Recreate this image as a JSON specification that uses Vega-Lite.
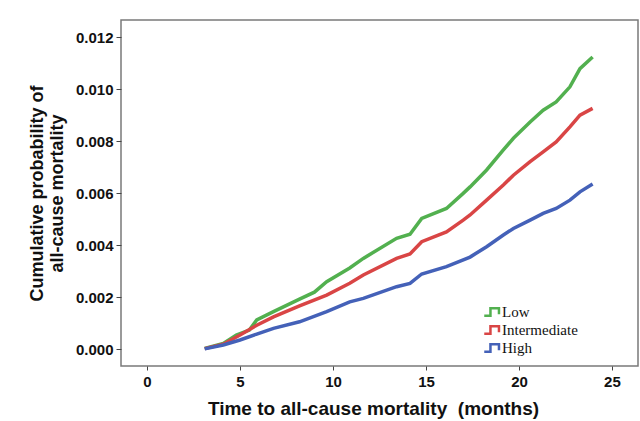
{
  "$schema": "https://vega.github.io/schema/vega-lite/v6.json",
  "autosize": "none",
  "width": 517,
  "height": 346,
  "padding": {"left": 121, "top": 20, "right": 2, "bottom": 55},
  "background": "white",
  "config": {
    "view": {"stroke": "#7a7a7a", "strokeWidth": 1.5},
    "font": "Liberation Sans"
  },
  "data": {
    "values": [
      {"t": 3.1, "p": 0.00004, "g": "Low"},
      {"t": 4.1, "p": 0.00023, "g": "Low"},
      {"t": 4.8, "p": 0.00055, "g": "Low"},
      {"t": 5.5, "p": 0.00074, "g": "Low"},
      {"t": 5.9, "p": 0.00113, "g": "Low"},
      {"t": 6.8, "p": 0.00145, "g": "Low"},
      {"t": 8.2, "p": 0.00193, "g": "Low"},
      {"t": 9.0, "p": 0.0022, "g": "Low"},
      {"t": 9.66, "p": 0.0026, "g": "Low"},
      {"t": 10.9, "p": 0.00313, "g": "Low"},
      {"t": 11.63, "p": 0.0035, "g": "Low"},
      {"t": 13.42, "p": 0.00427, "g": "Low"},
      {"t": 14.14, "p": 0.00443, "g": "Low"},
      {"t": 14.77, "p": 0.00504, "g": "Low"},
      {"t": 16.1, "p": 0.00542, "g": "Low"},
      {"t": 17.0, "p": 0.006, "g": "Low"},
      {"t": 17.37, "p": 0.00625, "g": "Low"},
      {"t": 18.26, "p": 0.0069, "g": "Low"},
      {"t": 19.16, "p": 0.00767, "g": "Low"},
      {"t": 19.7, "p": 0.00812, "g": "Low"},
      {"t": 20.6, "p": 0.00875, "g": "Low"},
      {"t": 21.3, "p": 0.0092, "g": "Low"},
      {"t": 22.0, "p": 0.00952, "g": "Low"},
      {"t": 22.74, "p": 0.0101, "g": "Low"},
      {"t": 23.28, "p": 0.0108, "g": "Low"},
      {"t": 23.96, "p": 0.01125, "g": "Low"},

      {"t": 3.1, "p": 0.00003, "g": "Intermediate"},
      {"t": 4.1, "p": 0.0002, "g": "Intermediate"},
      {"t": 5.0, "p": 0.00055, "g": "Intermediate"},
      {"t": 5.9, "p": 0.00093, "g": "Intermediate"},
      {"t": 6.8, "p": 0.00125, "g": "Intermediate"},
      {"t": 8.2, "p": 0.00167, "g": "Intermediate"},
      {"t": 9.66, "p": 0.00209, "g": "Intermediate"},
      {"t": 10.9, "p": 0.00254, "g": "Intermediate"},
      {"t": 11.63, "p": 0.00286, "g": "Intermediate"},
      {"t": 13.42, "p": 0.0035, "g": "Intermediate"},
      {"t": 14.14, "p": 0.00367, "g": "Intermediate"},
      {"t": 14.77, "p": 0.00414, "g": "Intermediate"},
      {"t": 16.1, "p": 0.00452, "g": "Intermediate"},
      {"t": 17.0, "p": 0.00497, "g": "Intermediate"},
      {"t": 17.37, "p": 0.00517, "g": "Intermediate"},
      {"t": 18.26, "p": 0.00574, "g": "Intermediate"},
      {"t": 19.16, "p": 0.00632, "g": "Intermediate"},
      {"t": 19.7, "p": 0.0067, "g": "Intermediate"},
      {"t": 20.6, "p": 0.00722, "g": "Intermediate"},
      {"t": 21.3, "p": 0.0076, "g": "Intermediate"},
      {"t": 22.0, "p": 0.00798, "g": "Intermediate"},
      {"t": 22.74, "p": 0.00856, "g": "Intermediate"},
      {"t": 23.28, "p": 0.00901, "g": "Intermediate"},
      {"t": 23.96, "p": 0.00927, "g": "Intermediate"},

      {"t": 3.1, "p": 0.00002, "g": "High"},
      {"t": 4.1, "p": 0.00017, "g": "High"},
      {"t": 5.0, "p": 0.00036, "g": "High"},
      {"t": 5.9, "p": 0.00059, "g": "High"},
      {"t": 6.8, "p": 0.00081, "g": "High"},
      {"t": 8.2, "p": 0.00106, "g": "High"},
      {"t": 9.66, "p": 0.00145, "g": "High"},
      {"t": 10.9, "p": 0.00183, "g": "High"},
      {"t": 11.63, "p": 0.00196, "g": "High"},
      {"t": 13.42, "p": 0.00241, "g": "High"},
      {"t": 14.14, "p": 0.00254, "g": "High"},
      {"t": 14.77, "p": 0.0029, "g": "High"},
      {"t": 16.1, "p": 0.00318, "g": "High"},
      {"t": 17.37, "p": 0.00355, "g": "High"},
      {"t": 18.26, "p": 0.00395, "g": "High"},
      {"t": 19.16, "p": 0.0044, "g": "High"},
      {"t": 19.7, "p": 0.00465, "g": "High"},
      {"t": 20.6, "p": 0.00497, "g": "High"},
      {"t": 21.3, "p": 0.00523, "g": "High"},
      {"t": 22.0, "p": 0.00542, "g": "High"},
      {"t": 22.74, "p": 0.00574, "g": "High"},
      {"t": 23.28, "p": 0.00606, "g": "High"},
      {"t": 23.96, "p": 0.00636, "g": "High"}
    ]
  },
  "mark": {"type": "line", "strokeWidth": 3.5, "interpolate": "linear"},
  "encoding": {
    "x": {
      "field": "t",
      "type": "quantitative",
      "scale": {"domain": [-1.4, 26.4], "nice": false, "zero": false},
      "axis": {
        "values": [0, 5, 10, 15, 20, 25],
        "title": "Time to all-cause mortality\u00a0 (months)",
        "grid": false,
        "domain": false,
        "tickColor": "#444",
        "tickSize": 4,
        "labelFont": "Liberation Sans",
        "labelFontWeight": "bold",
        "labelFontSize": 15,
        "labelColor": "#111",
        "labelPadding": 4,
        "titleFont": "Liberation Sans",
        "titleFontWeight": "bold",
        "titleFontSize": 19,
        "titleColor": "#111",
        "titlePadding": 10,
        "titleX": 252
      }
    },
    "y": {
      "field": "p",
      "type": "quantitative",
      "scale": {"domain": [-0.00064, 0.01267], "nice": false, "zero": false},
      "axis": {
        "values": [0, 0.002, 0.004, 0.006, 0.008, 0.01, 0.012],
        "format": ".3f",
        "title": ["Cumulative probability of", "all-cause mortality"],
        "grid": false,
        "domain": false,
        "tickColor": "#444",
        "tickSize": 5,
        "labelFont": "Liberation Sans",
        "labelFontWeight": "bold",
        "labelFontSize": 15,
        "labelColor": "#111",
        "labelPadding": 3,
        "titleFont": "Liberation Sans",
        "titleFontWeight": "bold",
        "titleFontSize": 18,
        "titleColor": "#111",
        "titlePadding": 9,
        "titleLineHeight": 20
      }
    },
    "color": {
      "field": "g",
      "type": "nominal",
      "sort": ["Low", "Intermediate", "High"],
      "scale": {
        "domain": ["Low", "Intermediate", "High"],
        "range": ["#52b04f", "#d94545", "#4461b8"]
      },
      "legend": {
        "title": null,
        "orient": "none",
        "legendX": 362,
        "legendY": 283,
        "symbolType": "M-1,0.5H-0.2V-0.5H0.9V0.3",
        "symbolSize": 240,
        "symbolStrokeWidth": 2.5,
        "symbolFillColor": "transparent",
        "labelFont": "Liberation Serif",
        "labelFontSize": 15,
        "labelColor": "#111",
        "labelOffset": 1,
        "rowPadding": 0
      }
    }
  }
}
